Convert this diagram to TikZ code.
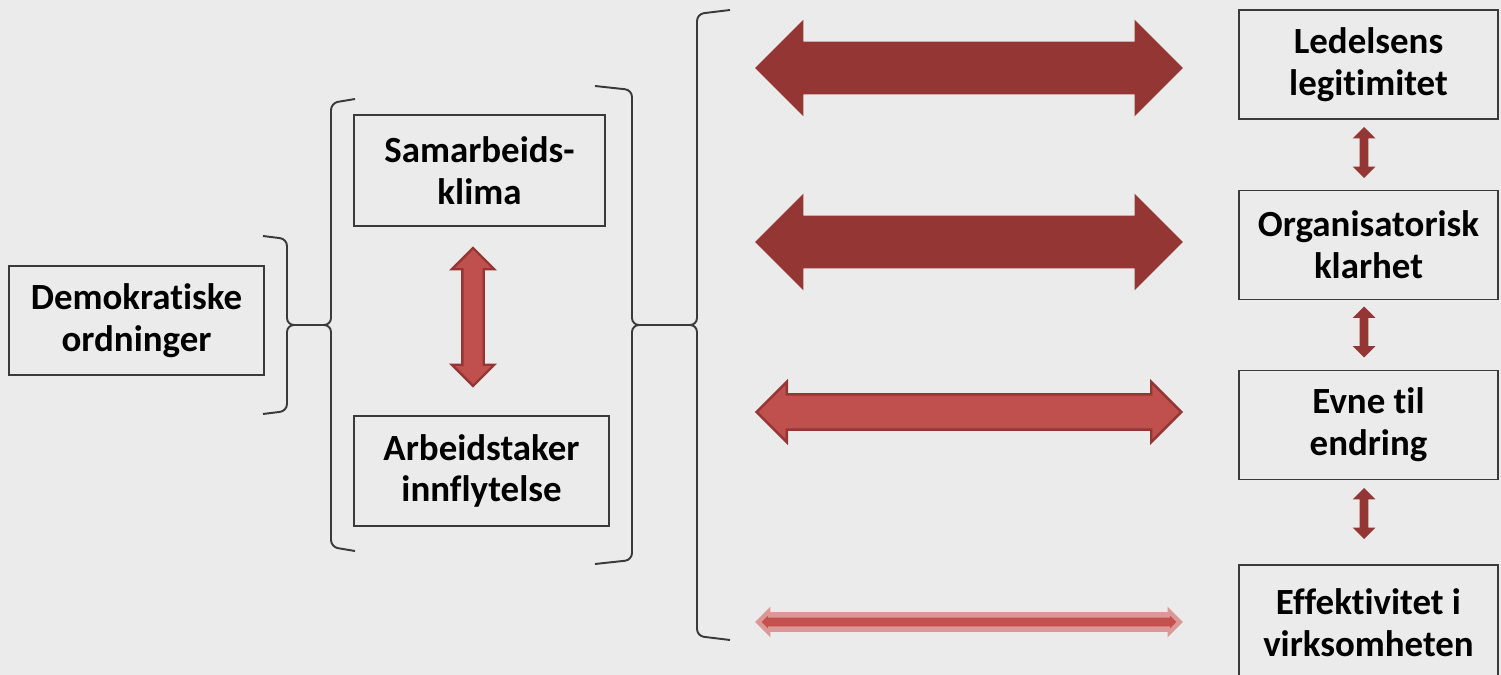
\documentclass[tikz,border=0pt]{standalone}
\usepackage{fontspec}
\setmainfont{Carlito}[Ligatures=NoCommon]
\usetikzlibrary{shapes.arrows}

\definecolor{bgGray}{HTML}{EBEBEB}
\definecolor{lineGray}{HTML}{3A3A3A}
\definecolor{darkRed}{HTML}{943634}
\definecolor{midRed}{HTML}{C0504D}
\definecolor{paleRed}{HTML}{DB9896}
\definecolor{coreRed}{HTML}{C5514E}

\begin{document}
\begin{tikzpicture}[
  x=0.02cm, y=-0.02cm,
  box/.style={draw=lineGray, line width=1.1pt, align=center, inner sep=0pt, font=\bfseries\fontsize{21}{23.8}\selectfont},
  rightbox/.style={box, minimum width=5.18cm, minimum height=2.18cm},
  bracketline/.style={draw=lineGray, line width=1.1pt, rounded corners=0.14cm},
  bigarrow/.style={double arrow, fill=darkRed, inner xsep=0pt, inner ysep=0.52cm, minimum height=8.56cm, double arrow head extend=0.44cm},
  midarrow/.style={double arrow, fill=midRed, draw=darkRed, line width=1.4pt, inner xsep=0pt, inner ysep=0.33cm, minimum height=8.5cm, double arrow head extend=0.25cm},
  palearrow/.style={double arrow, fill=paleRed, inner xsep=0pt, inner ysep=0.19cm, minimum height=8.56cm, double arrow head extend=0.11cm},
  corearrow/.style={double arrow, fill=coreRed, inner xsep=0pt, inner ysep=0.08cm, minimum height=8.3cm, double arrow head extend=0.04cm},
  uparrow/.style={double arrow, rotate=90, fill=midRed, draw=darkRed, line width=1.4pt, inner xsep=0pt, inner ysep=0.19cm, minimum height=2.76cm, double arrow head extend=0.21cm},
  smallarrow/.style={double arrow, rotate=90, fill=darkRed, inner xsep=0pt, inner ysep=0.08cm, minimum height=1.02cm, double arrow head extend=0.14cm}
]
\useasboundingbox (0,0) rectangle (1501,675);
\fill[bgGray] (0,0) rectangle (1501,675);

\node[box, minimum width=5.1cm, minimum height=2.18cm] (demo) at (136.5,320.5) {Demokratiske\\ordninger};
\node[box, minimum width=5.02cm, minimum height=2.22cm] (samarb) at (479.5,170.5) {Samarbeids-\\klima};
\node[box, minimum width=5.1cm, minimum height=2.2cm] (arbeid) at (481.5,471) {Arbeidstaker\\innflytelse};

\node[rightbox] (ledelse) at (1368.5,64.5) {Ledelsens\\legitimitet};
\node[rightbox] (klarhet) at (1368.5,245) {Organisatorisk\\klarhet};
\node[rightbox] (endring) at (1368.5,425) {Evne til\\endring};
\node[rightbox, minimum height=2.3cm] (effekt) at (1368.5,622.5) {Effektivitet i\\virksomheten};

\draw[bracketline] (263,236) -- (287,239) -- (287,325) -- (331,325) -- (331,103) -- (355,99);
\draw[bracketline] (263,414) -- (287,411) -- (287,325) -- (331,325) -- (331,547) -- (355,551);
\draw[bracketline] (595,86) -- (632,90) -- (632,325) -- (697,325) -- (697,14) -- (730,10);
\draw[bracketline] (595,564) -- (632,560) -- (632,325) -- (697,325) -- (697,636) -- (730,640);

\node[uparrow] (pilmidt) at (473,317) {};

\node[bigarrow] (pilledelse) at (969,68) {};
\node[bigarrow] (pilklarhet) at (969,242) {};
\node[midarrow] (pilendring) at (969,412) {};
\node[palearrow] (pileffekt) at (969,622) {};
\node[corearrow] (pileffektkjerne) at (969,622) {};

\node[smallarrow] (pilA) at (1364,152.5) {};
\node[smallarrow] (pilB) at (1364,332) {};
\node[smallarrow] (pilC) at (1364,513.5) {};
\end{tikzpicture}
\end{document}
